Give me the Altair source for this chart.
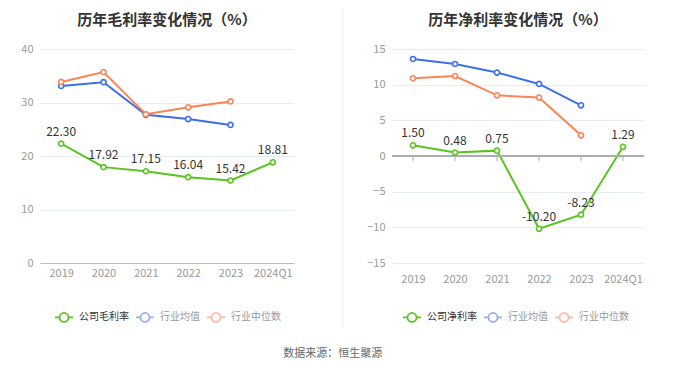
import altair as alt
import pandas as pd

categories = ["2019", "2020", "2021", "2022", "2023", "2024Q1"]

gross_names = ["公司毛利率", "行业均值", "行业中位数"]
gross_company = [22.30, 17.92, 17.15, 16.04, 15.42, 18.81]
gross_avg = [33.1, 33.8, 27.7, 26.9, 25.8, None]
gross_median = [33.85, 35.7, 27.8, 29.1, 30.2, None]

net_names = ["公司净利率", "行业均值", "行业中位数"]
net_company = [1.50, 0.48, 0.75, -10.20, -8.23, 1.29]
net_avg = [13.6, 12.9, 11.7, 10.1, 7.1, None]
net_median = [10.9, 11.2, 8.5, 8.2, 2.9, None]

gross_ticks = [0, 10, 20, 30, 40]
net_ticks = [-15, -10, -5, 0, 5, 10, 15]

FONT = "Noto Sans CJK SC"
GREEN = "#5ac41f"
BLUE = "#3d6fe8"
ORANGE = "#fa8453"
SYMBOL = "M-1,0L-0.5,0M0.5,0L1,0M0.5,0A0.5,0.5,0,1,1,-0.5,0A0.5,0.5,0,1,1,0.5,0"


def build(title, names, series, ticks, is_net, legend_x):
    rows = []
    for name, vals in zip(names, series):
        for c, v in zip(categories, vals):
            if v is not None:
                rows.append({"cat": c, "series": name, "value": v})
    df = pd.DataFrame(rows)
    comp = df[df.series == names[0]].copy()
    comp["label"] = comp["value"].map(lambda v: f"{v:.2f}")

    yscale = alt.Scale(domain=[ticks[0], ticks[-1]], nice=False, zero=False)
    xenc = alt.X(
        "cat:N", sort=categories, title=None,
        scale=alt.Scale(type="point", padding=0.5),
        axis=alt.Axis(labelAngle=0, ticks=False, domain=not is_net,
                      domainColor="#bbbbbb", labelColor="#999999",
                      labelFontSize=11, labelPadding=10 if is_net else 4,
                      labelFont=FONT, grid=False),
    )
    yenc = alt.Y(
        "value:Q", title=None, scale=yscale,
        axis=alt.Axis(values=ticks, domain=False, ticks=False,
                      gridColor="#e7ebf3", labelColor="#999999",
                      labelOverlap=False, labelFlush=False,
                      labelFontSize=11, labelPadding=7, labelFont=FONT),
    )
    cscale = alt.Scale(domain=names, range=[GREEN, BLUE, ORANGE])
    legend = alt.Legend(
        title=None, orient="none", legendX=legend_x, legendY=258,
        direction="horizontal", symbolType=SYMBOL, symbolSize=324,
        symbolStrokeWidth=1.8, symbolFillColor="white",
        labelFontSize=10, labelFont=FONT, labelOffset=5, columnPadding=3,
        labelColor={"expr": "datum.index == 0 ? '#333333' : '#999999'"},
        symbolOpacity={"expr": "datum.index == 0 ? 1 : 0.55"},
    )
    base = alt.Chart(df)
    lines = base.mark_line(strokeWidth=2).encode(
        x=xenc, y=yenc,
        color=alt.Color("series:N", scale=cscale, legend=legend),
        detail="series:N",
    )
    pts = base.mark_point(shape="circle", filled=False, fill="white",
                          fillOpacity=1, size=26, strokeWidth=1.6, opacity=1).encode(
        x=xenc, y=yenc,
        stroke=alt.Color("series:N", scale=cscale, legend=None),
    )
    labels = alt.Chart(comp).mark_text(dy=-12, fontSize=12, color="#333333",
                                       font=FONT).encode(
        x=xenc, y=yenc, text="label:N")
    if is_net:
        zero_df = pd.DataFrame({"cat": categories, "value": [0.0] * len(categories),
                                "value2": [-0.7] * len(categories)})
        zero = alt.Chart(zero_df).mark_rule(color="#aaaaaa", strokeWidth=1).encode(
            y=yenc)
        tks = alt.Chart(zero_df).mark_rule(color="#aaaaaa", strokeWidth=1).encode(
            x=xenc, y=yenc, y2="value2:Q")
        layers = [lines, zero, tks, pts, labels]
    else:
        layers = [lines, pts, labels]
    return alt.layer(*layers).properties(
        width=254 if not is_net else 252, height=214,
        title=alt.TitleParams(title, fontSize=15, fontWeight="bold",
                              color="#333333", font=FONT, anchor="middle",
                              frame="group", offset=15),
    )


left = build("历年毛利率变化情况（%）", gross_names,
             [gross_company, gross_avg, gross_median], gross_ticks, False, 14)
right = build("历年净利率变化情况（%）", net_names,
              [net_company, net_avg, net_median], net_ticks, True, 10)

sep = alt.Chart(pd.DataFrame({"a": [0]})).mark_rule(
    color="#eeeeee", strokeWidth=1).encode(
    x=alt.value(1), y=alt.value(-40), y2=alt.value(278)
).properties(width=2, height=214)

chart = alt.hconcat(left, sep, right, spacing=48, bounds="flush").resolve_scale(
    color="independent", y="independent", x="independent"
).resolve_legend(color="independent").properties(
    padding={"left": 12, "top": 0, "right": 5, "bottom": 5},
    title=alt.TitleParams("数据来源：恒生聚源", orient="bottom", anchor="middle",
                          fontSize=11, fontWeight="normal", color="#666666",
                          font=FONT, offset=20),
).configure_view(stroke=None)

chart.save("out.html", embed_options={"renderer": "svg", "actions": False})
